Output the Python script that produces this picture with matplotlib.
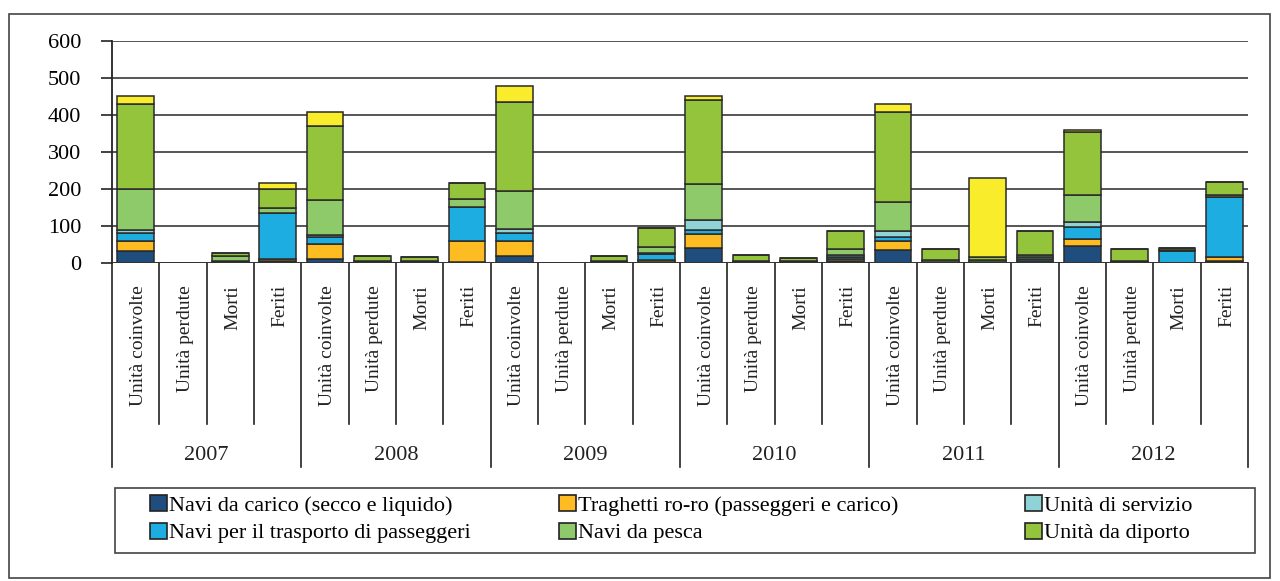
import matplotlib
matplotlib.use("Agg")
import matplotlib.pyplot as plt
import numpy as np
from matplotlib.transforms import blended_transform_factory
from matplotlib.patches import Rectangle, Patch
from matplotlib.lines import Line2D

plt.rcParams['font.family'] = ['Liberation Serif', 'DejaVu Serif']

years = ['2007', '2008', '2009', '2010', '2011', '2012']
measures = ['Unità coinvolte', 'Unità perdute', 'Morti', 'Feriti']

# values per category: [UC, UP, M, F] for each year 2007..2012
carico     = [31, 0, 4, 4,   10, 3, 2, 1,   17, 0, 2, 1,   38, 2, 1, 4,   35, 2, 2, 0,   45, 2, 0, 4]
traghetti  = [27, 0, 0, 6,   39, 0, 0, 57,  41, 0, 0, 6,   39, 0, 0, 5,   23, 0, 0, 5,   20, 0, 0, 11]
passeggeri = [23, 0, 0, 123, 20, 0, 0, 91,  21, 0, 0, 16,  11, 0, 0, 6,   10, 0, 0, 5,   30, 0, 32, 162]
servizio   = [6, 0, 0, 0,    6, 0, 0, 0,    11, 0, 0, 3,   26, 0, 0, 5,   17, 0, 0, 4,   14, 0, 1, 0]
pesca      = [111, 0, 13, 15, 95, 2, 2, 22, 104, 0, 1, 17, 99, 2, 2, 16,  80, 6, 5, 7,   73, 2, 2, 6]
diporto    = [230, 0, 8, 51, 201, 13, 10, 45, 241, 0, 15, 50, 226, 15, 10, 48, 244, 28, 7, 63, 171, 32, 3, 35]
altro      = [22, 0, 0, 15,  38, 0, 0, 0,   44, 0, 0, 0,   13, 0, 0, 0,   21, 0, 214, 2,  7, 0, 0, 0]

series = [
    ('Navi da carico (secco e liquido)', carico, '#1f4e7e'),
    ('Traghetti ro-ro (passeggeri e carico)', traghetti, '#fdbd22'),
    ('Navi per il trasporto di passeggeri', passeggeri, '#1eade0'),
    ('Unità di servizio', servizio, '#8fd3d6'),
    ('Navi da pesca', pesca, '#8fca6a'),
    ('Unità da diporto', diporto, '#93c43c'),
    ('_altro', altro, '#f8ec2b'),
]

W, H = 1280, 581
fig = plt.figure(figsize=(W / 100, H / 100), dpi=100)

def fx(px):
    return px / W

def fy(py):
    return 1 - py / H

# outer frame
fig.patches.append(Rectangle((fx(9), fy(578)), fx(1270) - fx(9), fy(14) - fy(578),
                             transform=fig.transFigure, fill=False, edgecolor='#444444', lw=1.2))

ax = fig.add_axes([fx(112), fy(262.5), fx(1248) - fx(112), fy(41) - fy(262.5)])

n = len(years) * len(measures)
x = np.arange(n)
bottom = np.zeros(n)
colors = {}
for label, vals, col in series:
    v = np.array(vals, dtype=float)
    ax.bar(x, v, bottom=bottom, width=0.78, color=col, edgecolor='#2a2a2a', linewidth=1.1,
           label=label, zorder=3)
    bottom += v
    colors[label] = col

ax.set_xlim(-0.5, n - 0.5)
ax.set_ylim(0, 600)
ax.set_yticks(range(0, 601, 100))
ax.tick_params(axis='y', length=8, width=1.2, color='#222222', labelsize=16, pad=14)
ax.set_xticks([])
ax.yaxis.grid(True, color='#555555', lw=1.4, zorder=0)
for s in ['top', 'right', 'bottom']:
    ax.spines[s].set_visible(False)
ax.spines['left'].set_linewidth(1.3)
ax.spines['left'].set_color('#222222')
ax.axhline(0, color='#333333', lw=1.4, zorder=4)

tr = blended_transform_factory(ax.transData, fig.transFigure)
# separators
for i in range(n + 1):
    xb = i - 0.5
    low = 467 if i % 4 == 0 else 424
    ax.add_line(Line2D([xb, xb], [fy(262.5), fy(low)], transform=tr, color='#222222',
                       lw=1.2, clip_on=False))
# category labels
for i in range(n):
    ax.text(i + 0.05, fy(285), measures[i % 4], transform=tr, rotation=90,
            ha='center', va='top', fontsize=14, color='#222222')
# year labels
for j, yr in enumerate(years):
    ax.text(j * 4 + 1.5, fy(455), yr, transform=tr, ha='center', va='center',
            fontsize=16, color='#222222')

# legend frame
fig.patches.append(Rectangle((fx(115), fy(553)), fx(1255) - fx(115), fy(488) - fy(553),
                             transform=fig.transFigure, fill=False, edgecolor='#444444', lw=1.2))

legend_cols = [
    (150, ['Navi da carico (secco e liquido)', 'Navi per il trasporto di passeggeri']),
    (559, ['Traghetti ro-ro (passeggeri e carico)', 'Navi da pesca']),
    (1025, ['Unità di servizio', 'Unità da diporto']),
]
for xpos, labels in legend_cols:
    hs = [Patch(facecolor=colors[k], edgecolor='#222222', lw=1.2) for k in labels]
    lg = fig.legend(hs, labels, loc='upper left', ncol=1,
                    bbox_to_anchor=(fx(xpos), fy(495)),
                    fontsize=16, frameon=False,
                    handlelength=0.75, handleheight=0.75, handletextpad=0.12,
                    labelspacing=0.3, borderaxespad=0, borderpad=0)

fig.savefig('out.png', dpi=100)
